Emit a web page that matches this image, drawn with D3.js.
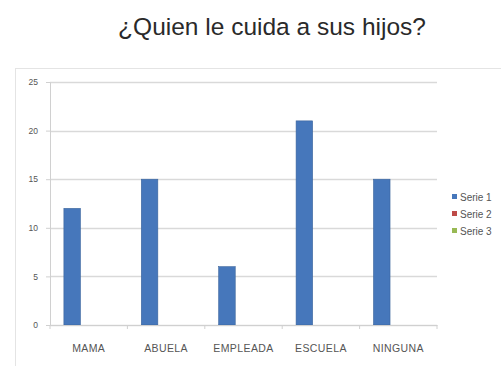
<!DOCTYPE html>
<html><head><meta charset="utf-8">
<script src="https://cdn.jsdelivr.net/npm/d3@7"></script>
<style>body{margin:0;background:#fff}svg{display:block}</style>
</head><body>
<script>
const categories = ["MAMA","ABUELA","EMPLEADA","ESCUELA","NINGUNA"];
const seriesNames = ["Serie 1","Serie 2","Serie 3"];
const serie1 = [12,15,6,21,15];
const serie2 = [0,0,0,0,0];
const serie3 = [0,0,0,0,0];
const yTicks = [0,5,10,15,20,25];
const colors = ["#4677bb","#be4b48","#98b954"];
const title = "¿Quien le cuida a sus hijos?";

const W=501,H=366;
const svg=d3.select("body").append("svg").attr("width",W).attr("height",H);
svg.append("rect").attr("x",15.5).attr("y",68.5).attr("width",W).attr("height",H).attr("fill","none").attr("stroke","#e4e4e4");
svg.append("text").attr("x",272).attr("y",35).attr("text-anchor","middle")
  .attr("font-family","Liberation Sans, Arial, sans-serif").attr("font-size",24.5).attr("fill","#2a2a2a").text(title);

const m={l:50,r:437,t:82,b:325};
const x=d3.scaleBand().domain(categories).range([m.l,m.r]).paddingInner(0).paddingOuter(0);
const y=d3.scaleLinear().domain([0,25]).range([m.b,m.t]);
const xs=d3.scaleBand().domain(seriesNames).range([0,x.bandwidth()]).paddingInner(0).paddingOuter(0.84);

const g=svg.append("g");
g.selectAll("line.grid").data(yTicks).enter().append("line")
 .attr("x1",m.l).attr("x2",m.r).attr("y1",d=>Math.round(y(d))+0.5).attr("y2",d=>Math.round(y(d))+0.5)
 .attr("stroke","#d9d9d9").attr("stroke-width",1.5);

const yAxis=svg.append("g").attr("transform",`translate(${m.l},0)`)
 .call(d3.axisLeft(y).tickValues(yTicks).tickSize(4).tickPadding(8));
yAxis.select(".domain").attr("stroke","#d0d0d0");
yAxis.selectAll(".tick line").attr("stroke","#d0d0d0");
yAxis.selectAll("text").attr("font-family","Liberation Sans, Arial, sans-serif").attr("font-size",8.5).attr("fill","#555");

const xAxis=svg.append("g").attr("transform",`translate(0,${m.b})`)
 .call(d3.axisBottom(x).tickSize(0).tickPadding(20));
xAxis.select(".domain").attr("stroke","#d0d0d0");
xAxis.selectAll("text").attr("font-family","Liberation Sans, Arial, sans-serif").attr("font-size",10.5)
 .attr("letter-spacing",0.4).attr("fill","#555");
xAxis.selectAll("line.sep").data(d3.range(categories.length+1)).enter().append("line")
 .attr("x1",i=>m.l+i*x.bandwidth()).attr("x2",i=>m.l+i*x.bandwidth()).attr("y1",0).attr("y2",4).attr("stroke","#d0d0d0");

const allSeries=[serie1,serie2,serie3];
allSeries.forEach((vals,si)=>{
  g.selectAll(null).data(vals).enter().append("rect")
   .attr("x",(d,i)=>x(categories[i])+xs(seriesNames[si]))
   .attr("width",xs.bandwidth())
   .attr("y",d=>y(d)).attr("height",d=>y(0)-y(d))
   .attr("fill",colors[si]).attr("stroke",d3.color(colors[si]).darker(0.5)).attr("stroke-width",0.6);
});

const leg=svg.append("g");
seriesNames.forEach((s,i)=>{
  const yy=197+i*17;
  leg.append("rect").attr("x",452).attr("y",yy-3).attr("width",5).attr("height",5).attr("fill",colors[i]);
  leg.append("text").attr("x",460).attr("y",yy+3.5).attr("font-family","Liberation Sans, Arial, sans-serif")
   .attr("font-size",10).attr("fill","#555").text(s);
});
</script>
</body></html>
